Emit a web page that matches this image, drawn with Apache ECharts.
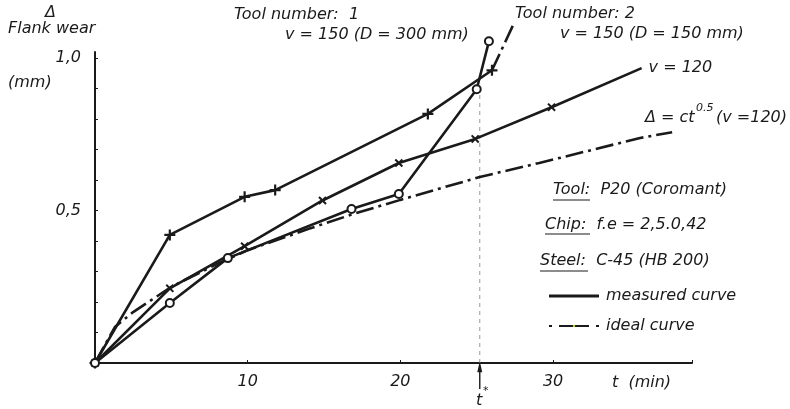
<!DOCTYPE html>
<html>
<head>
<meta charset="utf-8">
<script src="https://cdn.jsdelivr.net/npm/echarts@6/dist/echarts.min.js"></script>
<style>
  html, body { margin: 0; background: #fff; }
  #chart { width: 790px; height: 409px; }
</style>
</head>
<body>
<div id="chart"></div>
<script>
// flank wear (mm) against time t (min)
// tool number 2, v = 150 (D = 150 mm), "+" marks
var tool2Points = [[0, 0], [4.9, 0.42], [9.8, 0.545], [11.8, 0.567], [21.8, 0.817], [26.0, 0.96]];
var tool2Extension = [[26.0, 0.96], [27.4, 1.11]];
// v = 120, "x" marks
var v120Points = [[0, 0], [4.9, 0.245], [9.8, 0.383], [14.9, 0.533], [19.9, 0.656], [24.9, 0.735], [29.9, 0.839]];
var v120End = [35.8, 0.967];
// tool number 1, v = 150 (D = 300 mm), circles
var tool1Points = [[0, 0], [4.9, 0.197], [8.7, 0.344], [16.8, 0.505], [19.9, 0.554], [25.0, 0.898], [25.8, 1.055]];
// ideal curve  delta = c t^0.5 (v = 120)
var idealPoints = [[0, 0], [1.3, 0.118], [2.5, 0.167], [5, 0.25], [8, 0.325], [10, 0.37], [14, 0.44], [17, 0.49],
  [20, 0.535], [25.2, 0.61], [29.1, 0.656], [35.7, 0.738], [37.8, 0.757]];
var tStar = 25.2;
var tStarTop = 0.89;
var xLabels = [10, 20, 30];
var yLabels = { '0.5': '0,5', '1': '1,0' };

var ink = '#1a1a1a';
var font = 'DejaVu Sans';
var dashDot = [18, 5, 3, 5];
var plusPath = 'path://M4,0h2v4h4v2h-4v4h-2v-4h-4v-2h4z';

function txt(x, y, s, extra) {
  var st = { text: s, fill: ink, font: 'italic 16px "' + font + '"', textVerticalAlign: 'middle' };
  for (var k in extra) st[k] = extra[k];
  return { type: 'text', left: x, top: y - 7, style: st, silent: true };
}
function underline(x1, x2, y) {
  return { type: 'line', shape: { x1: x1, y1: y, x2: x2, y2: y }, style: { stroke: ink, lineWidth: 1.2 }, silent: true };
}

var chart = echarts.init(document.getElementById('chart'));
chart.setOption({
  animation: false,
  grid: { left: 95, right: 98, top: 52, bottom: 46 },
  xAxis: {
    type: 'value', min: 0, max: 39.1, interval: 10,
    splitLine: { show: false },
    axisLine: { lineStyle: { color: ink, width: 2 } },
    axisTick: { show: true, inside: true, length: 3, lineStyle: { color: ink } },
    axisLabel: {
      margin: 11, color: ink, fontSize: 16, fontStyle: 'italic', fontFamily: font,
      formatter: function (v) { return xLabels.indexOf(v) >= 0 ? String(v) : ''; }
    }
  },
  yAxis: {
    type: 'value', min: 0, max: 1.02, interval: 0.1,
    splitLine: { show: false },
    axisLine: { show: true, lineStyle: { color: ink, width: 2 } },
    axisTick: { show: true, inside: true, length: 3, lineStyle: { color: ink } },
    axisLabel: {
      margin: 14, color: ink, fontSize: 16, fontStyle: 'italic', fontFamily: font,
      formatter: function (v) { var k = String(Math.round(v * 10) / 10); return yLabels[k] || ''; }
    }
  },
  legend: {
    orient: 'vertical', left: 543, top: 283, itemWidth: 50, itemHeight: 3, itemGap: 14,
    textStyle: { color: ink, fontSize: 16, fontStyle: 'italic', fontFamily: font, padding: [0, 0, 0, 2] },
    data: [
      { name: 'measured curve', icon: 'rect' },
      { name: 'ideal curve', lineStyle: { type: [3, 7, 30, 7] } }
    ]
  },
  series: [
    {
      name: 'measured curve', type: 'line', data: tool2Points, clip: false,
      symbol: plusPath, symbolSize: 11,
      lineStyle: { color: ink, width: 2.6 }, itemStyle: { color: ink }
    },
    {
      name: 'tool 2 extension', type: 'line', data: tool2Extension, clip: false, symbol: 'none',
      lineStyle: { color: ink, width: 2.6, type: dashDot }
    },
    {
      name: 'measured curve', type: 'line', clip: false,
      data: v120Points.concat([{ value: v120End, symbol: 'none' }]),
      symbol: plusPath, symbolRotate: 45, symbolSize: 10,
      lineStyle: { color: ink, width: 2.6 }, itemStyle: { color: ink },
      endLabel: { show: true, formatter: 'v = 120', color: ink, fontSize: 16, fontStyle: 'italic', fontFamily: font, distance: 7 }
    },
    {
      name: 'measured curve', type: 'line', data: tool1Points, clip: false,
      symbol: 'emptyCircle', symbolSize: 8,
      lineStyle: { color: ink, width: 2.6 }, itemStyle: { color: ink, borderWidth: 1.6 }
    },
    {
      name: 'ideal curve', type: 'line', data: idealPoints, clip: false, symbol: 'none',
      lineStyle: { color: ink, width: 2.6, type: dashDot }
    },
    {
      name: 't*', type: 'line', data: [[tStar, 0], [tStar, tStarTop]], symbol: 'none', z: 1,
      lineStyle: { color: '#999', width: 1, type: [4, 4] }
    },
    {
      name: 't* arrow', type: 'line', clip: false,
      data: [{ value: [tStar, -0.085], symbol: 'none' }, { value: [tStar, -0.012], symbol: 'triangle', symbolSize: [5, 11] }],
      lineStyle: { color: ink, width: 1.4 }, itemStyle: { color: ink }
    }
  ],
  graphic: [
    txt(45, 12, 'Δ'),
    txt(8, 28, 'Flank wear'),
    txt(8, 82, '(mm)'),
    txt(234, 14, 'Tool number:  1'),
    txt(285, 34, 'v = 150 (D = 300 mm)'),
    txt(515, 13, 'Tool number: 2'),
    txt(560, 33, 'v = 150 (D = 150 mm)'),
    txt(645, 117, 'Δ = ct'),
    txt(696, 110, '0.5', { font: 'italic 11px "' + font + '"' }),
    txt(716, 117, '(v =120)'),
    txt(553, 189, 'Tool:  P20 (Coromant)'),
    underline(553, 590, 200),
    txt(545, 224, 'Chip:  f.e = 2,5.0,42'),
    underline(545, 590, 234),
    txt(540, 260, 'Steel:  C-45 (HB 200)'),
    underline(540, 588, 271),
    txt(612, 382, 't  (min)'),
    txt(476, 400, 't'),
    txt(483, 393, '*', { font: 'italic 11px "' + font + '"' })
  ]
});
</script>
</body>
</html>
